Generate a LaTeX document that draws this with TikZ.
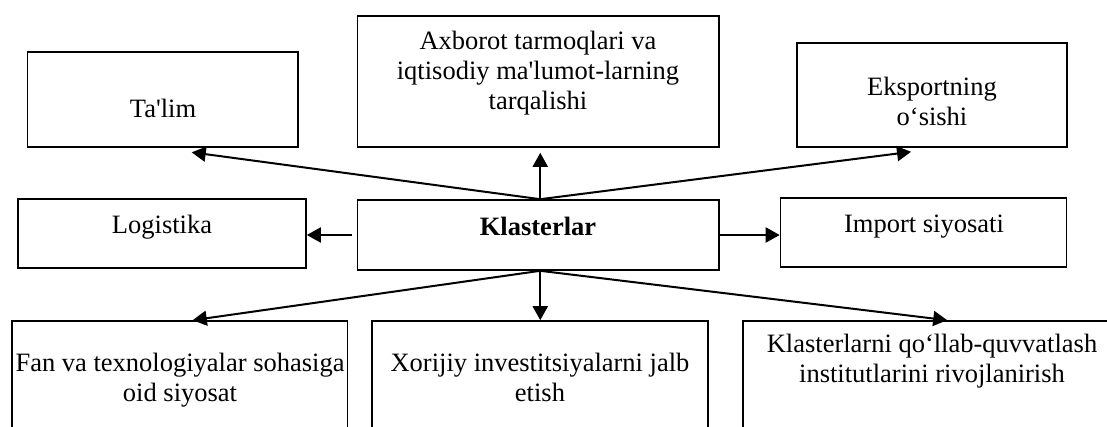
\documentclass[tikz,border=0pt]{standalone}
\usepackage{fontspec}
\setmainfont{Liberation Serif}
\usetikzlibrary{arrows.meta,calc}
\begin{document}
\begin{tikzpicture}[x=1pt,y=-1pt,
  box/.style={draw,line width=1.6pt,inner sep=0pt},
  txt/.style={anchor=north,align=center,inner sep=0pt,
    font=\fontsize{26.5}{30}\selectfont,
    execute at begin node={\rule{0pt}{20pt}}},
  arr/.style={line width=2pt,-{Triangle[length=14pt,width=15pt]}}]
\clip (0,0) rectangle (1107,426);
% boxes
\node[box,minimum width=270.5pt,minimum height=95pt]  (talim) at (162.75,99.5) {};
\node[box,minimum width=361.5pt,minimum height=131pt] (axb)   at (538.25,81.5) {};
\node[box,minimum width=270pt,minimum height=104pt]   (eks)   at (932,95) {};
\node[box,minimum width=288pt,minimum height=69pt]    (log)   at (162,233.5) {};
\node[box,minimum width=361.5pt,minimum height=70pt]  (klas)  at (538.25,235) {};
\node[box,minimum width=286pt,minimum height=69pt]    (imp)   at (923.5,232.5) {};
\node[box,minimum width=335.5pt,minimum height=139pt] (fan)   at (179.75,390.5) {};
\node[box,minimum width=336pt,minimum height=139pt]   (xor)   at (540,390.5) {};
\node[box,minimum width=387pt,minimum height=139pt]   (kq)    at (936.5,390.5) {};
% texts
\node[txt] (talim-t) at (163,97) {Ta\textquotesingle lim};
\node[txt] (axb-t) at (538,31) {Axborot tarmoqlari va\\iqtisodiy ma\textquotesingle lumot-larning\\tarqalishi};
\node[txt] (eks-t) at (932,77) {Eksportning\\o‘sishi};
\node[txt] (log-t) at (162,213) {Logistika};
\node[txt] (klas-t) at (538,215) {\bfseries Klasterlar};
\node[txt] (imp-t) at (924,212) {Import siyosati};
\node[txt] (fan-t) at (180,353) {Fan va texnologiyalar sohasiga\\oid siyosat};
\node[txt] (xor-t) at (540,353) {Xorijiy investitsiyalarni jalb\\etish};
\node[txt] (kq-t) at (932,334) {Klasterlarni qo‘llab-quvvatlash\\institutlarini rivojlanirish};
% junctions
\coordinate (jt) at ([xshift=2pt]klas.north);
\coordinate (jb) at ([xshift=2pt]klas.south);
% connectors
\draw[arr] (jt) -- ($(talim.south)+(29,4.5)$);
\draw[arr] (jt) -- ($(jt |- axb.south)+(0,5)$);
\draw[arr] (jt) -- ($(eks.south)+(-21,4)$);
\draw[arr] ($(klas.west)+(-5,0)$) -- (klas.west -| log.east);
\draw[arr] (klas.east) -- (klas.east -| imp.west);
\draw[arr] (jb) -- ($(fan.north)+(13,0)$);
\draw[arr] (jb) -- (jb |- xor.north);
\draw[arr] (jb) -- ($(kq.north west)+(205,0)$);
\end{tikzpicture}
\end{document}
